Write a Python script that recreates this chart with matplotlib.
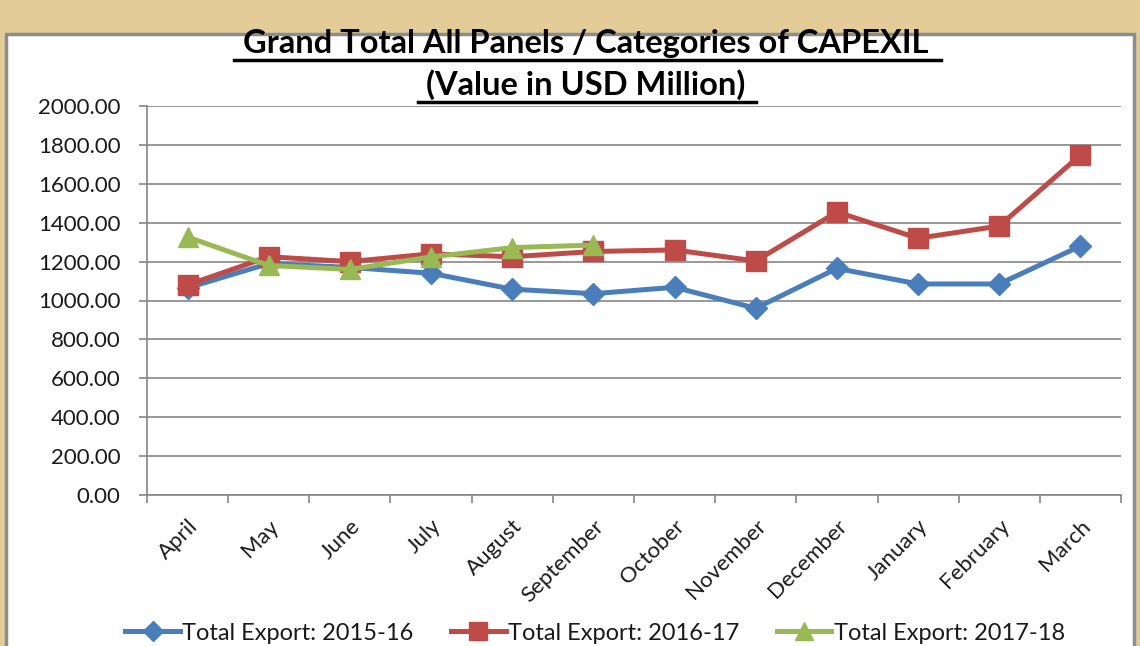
import matplotlib
matplotlib.use("Agg")
import matplotlib.pyplot as plt
from matplotlib.patches import Rectangle

months = ["April", "May", "June", "July", "August", "September", "October",
          "November", "December", "January", "February", "March"]
export_2015_16 = [1065, 1190, 1170, 1140, 1058, 1035, 1068, 960, 1165, 1085, 1085, 1280]
export_2016_17 = [1080, 1225, 1200, 1240, 1225, 1252, 1260, 1203, 1455, 1320, 1383, 1748]
export_2017_18 = [1326, 1180, 1160, 1224, 1272, 1285]
series_labels = ["Total Export: 2015-16", "Total Export: 2016-17", "Total Export: 2017-18"]
yticks = [0, 200, 400, 600, 800, 1000, 1200, 1400, 1600, 1800, 2000]

plt.rcParams['font.family'] = ['Lato', 'DejaVu Sans']
TXT = "#1a1a1a"

fig = plt.figure(figsize=(11.4, 6.46), dpi=100, facecolor="#e3cc98")
# white chart panel with grey border
fig.add_artist(Rectangle((6/1140, -0.01), (1134-6)/1140, (646-34)/646 + 0.01, transform=fig.transFigure,
                         facecolor="white", edgecolor="#8c8c8c", linewidth=2.5, zorder=-1))

ax = fig.add_axes([147/1140, (646-495)/646, (1121-147)/1140, (495-106)/646])
ax.set_zorder(1)
ax.set_facecolor("white")
x = list(range(len(months)))

ax.plot(x, export_2015_16, color="#4a7ebb", lw=3.6, marker="D", ms=11, label=series_labels[0], zorder=3)
ax.plot(x, export_2016_17, color="#be4b48", lw=3.6, marker="s", ms=14, label=series_labels[1], zorder=4)
ax.plot(x[:len(export_2017_18)], export_2017_18, color="#98b954", lw=3.6, marker="^", ms=14,
        label=series_labels[2], zorder=5)

ax.set_xlim(-0.5, len(months) - 0.5)
ax.set_ylim(0, 2000)
ax.set_yticks(yticks)
ax.set_yticklabels([f"{v:.2f}" for v in yticks], fontsize=16, color=TXT)
ax.set_xticks(x)
ax.set_xticklabels(months, rotation=45, ha="right", rotation_mode="anchor", fontsize=16, color=TXT)
ax.set_xticks([i - 0.5 for i in range(len(months) + 1)], minor=True)
ax.tick_params(axis="x", which="major", length=0, pad=15)
ax.tick_params(axis="x", which="minor", length=6, color="#868686", width=1.2)
ax.tick_params(axis="y", length=6, color="#868686", width=1.2, pad=13)
ax.grid(axis="y", color="#868686", lw=1.2)
ax.set_axisbelow(True)
for s in ["top", "right"]:
    ax.spines[s].set_visible(False)
for s in ["left", "bottom"]:
    ax.spines[s].set_color("#868686")
    ax.spines[s].set_linewidth(1.2)

fig.text(0.514, (646-44)/646, "Grand Total All Panels / Categories of CAPEXIL", ha="center", va="center",
         fontsize=23.5, fontweight="bold", color="black")
fig.text(0.514, (646-85)/646, "(Value in USD Million)", ha="center", va="center", fontsize=23.5,
         fontweight="bold", color="black")
# underlines
fig.add_artist(plt.Line2D([234/1140, 941/1140], [(646-60)/646]*2, color="black", lw=2.5,
                          transform=fig.transFigure))
fig.add_artist(plt.Line2D([418/1140, 756/1140], [(646-102)/646]*2, color="black", lw=2.5,
                          transform=fig.transFigure))

leg = fig.legend(loc="center", bbox_to_anchor=(0.522, (646-633)/646), ncol=3, frameon=False, fontsize=17,
                 handlelength=2.3, handletextpad=0.1, columnspacing=1.6, markerscale=0.9)
for t in leg.get_texts():
    t.set_color(TXT)

fig.savefig("out.png", dpi=100, facecolor=fig.get_facecolor())
